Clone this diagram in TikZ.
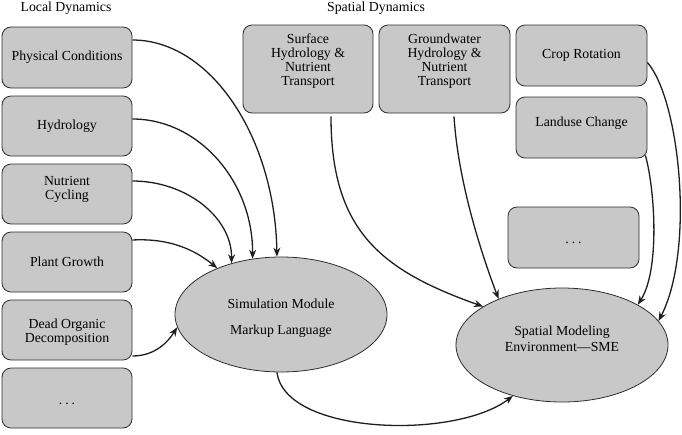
\documentclass[tikz,border=0pt]{standalone}
\usepackage{fontspec}
\setmainfont{Liberation Serif}
\usetikzlibrary{shapes.geometric,arrows.meta}
\definecolor{boxfill}{RGB}{200,200,200}
\definecolor{edgecol}{RGB}{45,45,45}
\definecolor{arrcol}{RGB}{30,30,30}
\newcommand\dfont{\rmfamily\fontsize{13.8}{14}\selectfont}
\newcommand\sdots{.\hspace{3pt}.\hspace{3pt}.}
\begin{document}
\begin{tikzpicture}[x=1pt,y=-1pt,
  box/.style={draw=edgecol, line width=0.8pt, fill=boxfill, rounded corners=9pt,
    minimum width=130pt, minimum height=60pt, inner sep=0pt, align=center, font=\dfont},
  oval/.style={ellipse, draw=edgecol, line width=0.8pt, fill=boxfill,
    minimum width=212pt, minimum height=115pt, inner sep=0pt, align=center, font=\dfont},
  lbl/.style={font=\dfont, align=center, inner sep=0pt},
  hdr/.style={font=\dfont, inner sep=0pt},
  conn/.style={draw=arrcol, line width=1.3pt, -{Stealth[length=9pt,width=7pt]}}]
\useasboundingbox (0,0) rectangle (682,434);

% headers
\node[hdr] (lochdr) at (66,8) {Local Dynamics};
\node[hdr] (spahdr) at (376,8) {Spatial Dynamics};

% local boxes
\node[box, minimum height=61pt] (pc) at (67,57.5) {Physical Conditions};
\node[box] (hy) at (67,126) {Hydrology};
\node[box, label={[lbl,yshift=5pt]center:{Nutrient\\Cycling}}] (nc) at (67,194) {};
\node[box] (pg) at (67,262) {Plant Growth};
\node[box, label={[lbl,yshift=-2pt]center:{Dead Organic\\Decomposition}}] (dd) at (67,330) {};
\node[box, label={[lbl,yshift=-6pt]center:{\sdots}}] (ld) at (67,398) {};

% spatial boxes
\node[box, minimum height=88pt, label={[lbl,yshift=8pt]center:{Surface\\Hydrology \&\\Nutrient\\Transport}}] (sf) at (308,69) {};
\node[box, minimum width=131pt, minimum height=88pt, label={[lbl,yshift=8pt]center:{Groundwater\\Hydrology \&\\Nutrient\\Transport}}] (gw) at (444.5,69) {};
\node[box, minimum width=131pt, minimum height=61pt, label={[lbl,yshift=0.5pt]center:{Crop Rotation}}] (cr) at (581.5,55.5) {};
\node[box, minimum width=131pt, minimum height=61pt, label={[lbl,yshift=4pt]center:{Landuse Change}}] (lu) at (581.5,127.5) {};
\node[box, minimum width=131pt, minimum height=61pt, label={[lbl,yshift=-5pt]center:{\sdots}}] (sd) at (573.5,237.5) {};

% ellipses
\node[oval, label={[lbl,yshift=-3.5pt]center:{Simulation Module\\[12pt]Markup Language}}] (sim) at (281,314.5) {};
\node[oval, minimum height=114pt, label={[lbl,yshift=6pt]center:{Spatial Modeling\\[2pt]Environment—SME}}] (sme) at (562,345) {};

% local connectors
\draw[conn] ([yshift=17.5pt]pc.east) .. controls (211,40) and (275,138) .. (sim.94);
\draw[conn] ([yshift=7pt]hy.east) .. controls (199,119) and (253,182) .. (sim.117);
\draw[conn] ([yshift=13pt]nc.east) .. controls (187,181) and (232,218) .. (sim.134);
\draw[conn] ([yshift=22pt]pg.east) .. controls (170,238) and (195,250) .. (sim.144);
\draw[conn] ([yshift=-26pt]dd.east) .. controls (155,356) and (168,342) .. (sim.187);

% sim -> sme
\draw[conn] (sim.266) .. controls (285,435) and (455,440) .. (sme.226);

% spatial connectors
\draw[conn] ([xshift=23pt,yshift=-3pt]sf.south) .. controls (331,230) and (380,270) .. (sme.154);
\draw[conn] ([xshift=9.5pt,yshift=-3pt]gw.south) .. controls (458,180) and (480,250) .. (sme.144);
\draw[conn] ([xshift=-2pt,yshift=3pt]lu.south east) .. controls (655,190) and (660,270) .. (sme.28);
\draw[conn] ([yshift=-7pt]cr.east) .. controls (680,100) and (695,250) .. (sme.14);
\end{tikzpicture}
\end{document}
